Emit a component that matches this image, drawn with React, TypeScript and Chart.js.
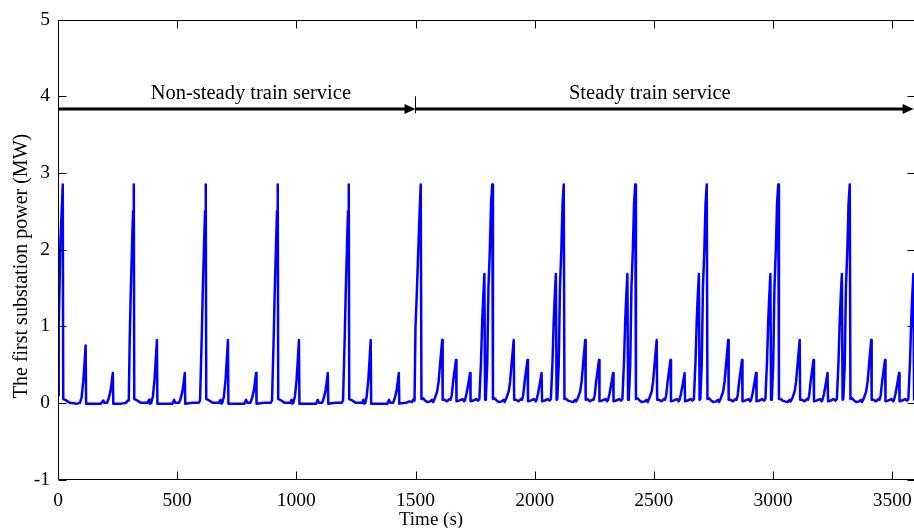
import React, { useEffect, useRef } from "react";
import { Chart, registerables } from "chart.js";

Chart.register(...registerables);

// Axis ticks and titles
const xTickValues = [0, 500, 1000, 1500, 2000, 2500, 3000, 3500];
const yTickValues = [-1, 0, 1, 2, 3, 4, 5];
const xTitle = "Time (s)";
const yTitle = "The first substation power (MW)";

// Regime annotation (time boundaries in s, level in MW)
const regimeNames = ["Non-steady train service", "Steady train service"];
const regimeBounds = [0, 1500, 3590];
const regimeArrowLevel = 3.83;

// Power trace, non-steady service: [time s, power MW]
const nonSteadyTrace: [number, number][] = [
  [0, 0.1], [3, 1.0], [7, 1.6], [10, 2.1], [14, 2.4], [20, 2.85], [22, 0.05], [30, 0.04], [40, 0.02], [50, 0.0], [80, -0.01],
  [92, 0.0], [99, 0.07], [106, 0.28], [111, 0.5], [116, 0.75], [118, -0.01],
  [150, -0.01], [180, -0.01], [190, 0.03], [195, 0.0],
  [206, 0.0], [213, 0.06], [220, 0.15], [225, 0.26], [230, 0.39], [232, -0.01],
  [265, -0.01], [285, 0.0], [293, 0.03],
  [297, 0.03], [301, 0.85], [305, 1.4], [308, 1.75], [312, 2.2], [315, 2.5], [318, 2.85], [320, 0.05], [328, 0.04], [338, 0.02], [348, 0.0], [375, 0.0], [382, 0.04], [386, -0.01],
  [391, 0.0], [398, 0.08], [405, 0.3], [410, 0.55], [415, 0.82], [417, -0.01],
  [450, -0.01], [480, -0.01], [487, 0.04], [492, 0.0],
  [508, 0.0], [515, 0.06], [522, 0.15], [527, 0.26], [532, 0.39], [534, -0.01],
  [565, 0.0], [590, 0.0], [596, 0.03],
  [599, 0.03], [603, 0.85], [607, 1.4], [610, 1.75], [614, 2.2], [617, 2.5], [620, 2.85], [622, 0.05], [630, 0.04], [640, 0.02], [650, 0.0], [675, 0.0], [682, 0.04], [686, -0.01],
  [689, 0.0], [696, 0.08], [703, 0.3], [708, 0.55], [713, 0.82], [715, -0.01],
  [750, -0.01], [782, -0.01], [789, 0.04], [794, 0.0],
  [807, 0.0], [814, 0.06], [821, 0.15], [826, 0.26], [831, 0.39], [833, -0.01],
  [865, 0.0], [892, 0.0], [898, 0.03],
  [901, 0.03], [905, 0.85], [909, 1.4], [912, 1.75], [916, 2.2], [919, 2.5], [922, 2.85], [924, 0.05], [932, 0.04], [942, 0.02], [952, 0.0], [975, 0.0], [980, 0.04], [984, -0.01],
  [987, 0.0], [994, 0.08], [1001, 0.3], [1006, 0.55], [1011, 0.82], [1013, -0.01],
  [1050, -0.01], [1083, -0.01], [1090, 0.04], [1095, 0.0],
  [1108, 0.0], [1115, 0.06], [1122, 0.15], [1127, 0.26], [1132, 0.39], [1134, -0.01],
  [1165, 0.0], [1190, 0.0], [1196, 0.03],
  [1199, 0.03], [1203, 0.85], [1207, 1.4], [1210, 1.75], [1214, 2.2], [1217, 2.5], [1220, 2.85], [1222, 0.05], [1230, 0.04], [1240, 0.02], [1250, 0.0], [1276, 0.0], [1282, 0.04], [1286, -0.01],
  [1289, 0.0], [1295, 0.08], [1302, 0.3], [1307, 0.55], [1312, 0.82], [1314, -0.01],
  [1350, -0.01], [1382, -0.01], [1389, 0.04], [1394, 0.0],
  [1406, 0.0], [1413, 0.06], [1420, 0.15], [1425, 0.26], [1430, 0.39], [1432, -0.01],
  [1460, 0.0], [1475, 0.02], [1485, 0.01], [1492, 0.05], [1496, 0.03],
];

// Power trace, steady service: [time s, power MW]
const steadyTrace: [number, number][] = [
  [1500, 1.0], [1504, 1.3], [1509, 1.75], [1514, 2.2], [1518, 2.55], [1522, 2.85], [1525, 0.05],
  [1532, 0.06], [1540, 0.03], [1550, 0.01], [1562, 0.02], [1570, 0.04],
  [1574, 0.01], [1581, 0.06], [1591, 0.15], [1597, 0.28], [1603, 0.5], [1612, 0.82], [1614, 0.04],
  [1622, 0.04], [1632, 0.02], [1642, 0.05],
  [1647, 0.04], [1652, 0.1], [1658, 0.28], [1664, 0.42], [1670, 0.56], [1672, 0.02],
  [1682, 0.03], [1697, 0.05], [1704, 0.02],
  [1708, 0.04], [1714, 0.12], [1721, 0.24], [1729, 0.39], [1731, 0.02],
  [1742, 0.03], [1754, 0.05], [1762, 0.03],
  [1768, 0.05], [1775, 0.55], [1780, 1.07], [1784, 1.37], [1789, 1.68], [1792, 0.04], [1795, 0.05],
  [1801, 0.5], [1806, 1.5], [1812, 2.0], [1817, 2.6], [1822, 2.85], [1825, 0.05],
  [1832, 0.06], [1840, 0.03], [1850, 0.01], [1862, 0.02], [1870, 0.04],
  [1874, 0.01], [1881, 0.06], [1891, 0.15], [1897, 0.28], [1903, 0.5], [1912, 0.82], [1914, 0.04],
  [1922, 0.04], [1932, 0.02], [1942, 0.05],
  [1947, 0.04], [1952, 0.1], [1958, 0.28], [1964, 0.42], [1970, 0.56], [1972, 0.02],
  [1982, 0.03], [1997, 0.05], [2004, 0.02],
  [2008, 0.04], [2014, 0.12], [2021, 0.24], [2029, 0.39], [2031, 0.02],
  [2042, 0.03], [2054, 0.05], [2062, 0.03],
  [2068, 0.05], [2075, 0.55], [2080, 1.07], [2084, 1.37], [2089, 1.68], [2092, 0.04], [2095, 0.05],
  [2101, 0.5], [2106, 1.5], [2112, 2.0], [2117, 2.6], [2122, 2.85], [2125, 0.05],
  [2132, 0.05], [2140, 0.03], [2150, 0.02], [2162, 0.01], [2170, 0.04],
  [2174, 0.02], [2181, 0.06], [2191, 0.15], [2197, 0.28], [2203, 0.5], [2212, 0.82], [2214, 0.04],
  [2222, 0.05], [2232, 0.02], [2242, 0.04],
  [2247, 0.04], [2252, 0.1], [2258, 0.28], [2264, 0.42], [2270, 0.56], [2272, 0.02],
  [2282, 0.03], [2297, 0.05], [2304, 0.02],
  [2308, 0.04], [2314, 0.12], [2321, 0.24], [2329, 0.39], [2331, 0.02],
  [2342, 0.03], [2354, 0.05], [2362, 0.03],
  [2368, 0.05], [2375, 0.55], [2380, 1.07], [2384, 1.37], [2389, 1.68], [2392, 0.04], [2395, 0.05],
  [2401, 0.5], [2406, 1.5], [2412, 2.0], [2417, 2.6], [2422, 2.85], [2425, 0.05],
  [2432, 0.06], [2440, 0.03], [2450, 0.01], [2462, 0.02], [2470, 0.04],
  [2474, 0.01], [2481, 0.06], [2491, 0.15], [2497, 0.28], [2503, 0.5], [2512, 0.82], [2514, 0.04],
  [2522, 0.04], [2532, 0.02], [2542, 0.05],
  [2547, 0.04], [2552, 0.1], [2558, 0.28], [2564, 0.42], [2570, 0.56], [2572, 0.02],
  [2582, 0.03], [2597, 0.05], [2604, 0.02],
  [2608, 0.04], [2614, 0.12], [2621, 0.24], [2629, 0.39], [2631, 0.02],
  [2642, 0.03], [2654, 0.05], [2662, 0.03],
  [2668, 0.05], [2675, 0.55], [2680, 1.07], [2684, 1.37], [2689, 1.68], [2692, 0.04], [2695, 0.05],
  [2701, 0.5], [2706, 1.5], [2712, 2.0], [2717, 2.6], [2722, 2.85], [2725, 0.05],
  [2732, 0.06], [2740, 0.03], [2750, 0.01], [2762, 0.02], [2770, 0.04],
  [2774, 0.01], [2781, 0.06], [2791, 0.15], [2797, 0.28], [2803, 0.5], [2812, 0.82], [2814, 0.04],
  [2822, 0.04], [2832, 0.02], [2842, 0.05],
  [2847, 0.04], [2852, 0.1], [2858, 0.28], [2864, 0.42], [2870, 0.56], [2872, 0.02],
  [2882, 0.03], [2897, 0.05], [2904, 0.02],
  [2908, 0.04], [2914, 0.12], [2921, 0.24], [2929, 0.39], [2931, 0.02],
  [2942, 0.03], [2954, 0.05], [2962, 0.03],
  [2968, 0.05], [2975, 0.55], [2980, 1.07], [2984, 1.37], [2989, 1.68], [2992, 0.04], [2995, 0.05],
  [3001, 0.5], [3006, 1.5], [3012, 2.0], [3017, 2.6], [3022, 2.85], [3025, 0.05],
  [3032, 0.05], [3040, 0.03], [3050, 0.02], [3062, 0.01], [3070, 0.04],
  [3074, 0.02], [3081, 0.06], [3091, 0.15], [3097, 0.28], [3103, 0.5], [3112, 0.82], [3114, 0.04],
  [3122, 0.04], [3132, 0.02], [3142, 0.05],
  [3147, 0.04], [3152, 0.1], [3158, 0.28], [3164, 0.42], [3170, 0.56], [3172, 0.02],
  [3182, 0.03], [3197, 0.05], [3204, 0.02],
  [3208, 0.04], [3214, 0.12], [3221, 0.24], [3229, 0.39], [3231, 0.02],
  [3242, 0.03], [3254, 0.05], [3262, 0.03],
  [3268, 0.05], [3275, 0.55], [3280, 1.07], [3284, 1.37], [3289, 1.68], [3292, 0.04], [3295, 0.05],
  [3301, 0.5], [3306, 1.5], [3312, 2.0], [3317, 2.6], [3322, 2.85], [3325, 0.05],
  [3332, 0.06], [3340, 0.03], [3350, 0.01], [3362, 0.02], [3370, 0.04],
  [3374, 0.01], [3381, 0.06], [3391, 0.15], [3397, 0.28], [3403, 0.5], [3412, 0.82], [3414, 0.04],
  [3422, 0.04], [3432, 0.02], [3442, 0.05],
  [3447, 0.04], [3452, 0.1], [3458, 0.28], [3464, 0.42], [3470, 0.56], [3472, 0.02],
  [3482, 0.03], [3497, 0.05], [3504, 0.02],
  [3508, 0.04], [3514, 0.12], [3521, 0.24], [3529, 0.39], [3531, 0.02],
  [3542, 0.03], [3554, 0.05], [3562, 0.03],
  [3568, 0.05], [3575, 0.55], [3580, 1.07], [3584, 1.37], [3589, 1.68], [3592, 0.04], [3595, 0.05], [3600, 0.5],
];

const SERIF = "'Liberation Serif', 'Times New Roman', serif";

const framePlugin = {
  id: "frameAndNotes",
  afterDatasetsDraw(chart: any) {
    const { ctx, chartArea: a, scales } = chart;
    const xs = scales.x;
    const ys = scales.y;
    ctx.save();
    // box
    ctx.strokeStyle = "#000";
    ctx.lineWidth = 1;
    const L = Math.round(a.left) + 0.5;
    const R = Math.round(a.right) - 0.5;
    const T = Math.round(a.top) + 0.5;
    const B = Math.round(a.bottom) - 0.5;
    ctx.beginPath();
    ctx.rect(L, T, R - L, B - T);
    ctx.stroke();
    // inward ticks
    const tl = 8;
    ctx.beginPath();
    xTickValues.forEach((v) => {
      const px = Math.round(xs.getPixelForValue(v)) + 0.5;
      ctx.moveTo(px, B);
      ctx.lineTo(px, B - tl);
      ctx.moveTo(px, T);
      ctx.lineTo(px, T + tl);
    });
    yTickValues.forEach((v) => {
      const py = Math.round(ys.getPixelForValue(v)) + 0.5;
      ctx.moveTo(L, py);
      ctx.lineTo(L + tl, py);
      ctx.moveTo(R, py);
      ctx.lineTo(R - tl, py);
    });
    ctx.stroke();

    // regime arrows
    const yA = Math.round(ys.getPixelForValue(regimeArrowLevel));
    ctx.fillStyle = "#000";
    for (let i = 0; i < 2; i++) {
      const x0 = xs.getPixelForValue(regimeBounds[i]);
      const x1 = xs.getPixelForValue(regimeBounds[i + 1]);
      ctx.lineWidth = 3;
      ctx.beginPath();
      ctx.moveTo(x0, yA);
      ctx.lineTo(x1 - 6, yA);
      ctx.stroke();
      ctx.beginPath();
      ctx.moveTo(x1, yA);
      ctx.lineTo(x1 - 11, yA - 5);
      ctx.lineTo(x1 - 11, yA + 5);
      ctx.closePath();
      ctx.fill();
    }
    // divider tick at regime boundary
    const xm = Math.round(xs.getPixelForValue(regimeBounds[1])) - 0.5;
    ctx.lineWidth = 1;
    ctx.beginPath();
    ctx.moveTo(xm, ys.getPixelForValue(4.0));
    ctx.lineTo(xm, ys.getPixelForValue(3.78));
    ctx.stroke();

    // regime labels
    ctx.font = `20.5px ${SERIF}`;
    ctx.textAlign = "center";
    ctx.textBaseline = "alphabetic";
    ctx.fillText(regimeNames[0], xs.getPixelForValue(809), ys.getPixelForValue(3.97));
    ctx.fillText(regimeNames[1], xs.getPixelForValue(2483), ys.getPixelForValue(3.97));

    // axis titles
    ctx.font = `19px ${SERIF}`;
    ctx.fillText(xTitle, 431, 525);
    ctx.save();
    ctx.translate(27, 266);
    ctx.rotate(-Math.PI / 2);
    ctx.font = `20px ${SERIF}`;
    ctx.fillText(yTitle, 0, 0);
    ctx.restore();
    ctx.restore();
  },
};

export default function App() {
  const ref = useRef<HTMLCanvasElement | null>(null);
  useEffect(() => {
    if (!ref.current) return;
    const points = [...nonSteadyTrace, ...steadyTrace].map(([t, p]) => ({ x: t, y: p }));
    const chart = new Chart(ref.current, {
      type: "line",
      data: {
        datasets: [
          {
            data: points,
            borderColor: "#0000ff",
            borderWidth: 2.5,
            borderJoinStyle: "round",
            borderCapStyle: "round",
            pointRadius: 0,
            tension: 0,
            fill: false,
          },
        ],
      },
      options: {
        animation: false,
        responsive: false,
        events: [],
        layout: { padding: { top: 15.5, right: 8, left: 0, bottom: 0 } },
        plugins: { legend: { display: false }, tooltip: { enabled: false } },
        scales: {
          x: {
            type: "linear",
            min: 0,
            max: 3600,
            afterFit: (s: any) => {
              s.height = 48.5;
            },
            afterBuildTicks: (s: any) => {
              s.ticks = xTickValues.map((v) => ({ value: v }));
            },
            grid: { display: false, drawTicks: false },
            border: { display: false },
            ticks: {
              autoSkip: false,
              maxRotation: 0,
              padding: 10,
              color: "#000",
              font: { family: SERIF, size: 19.5 },
              callback: (v: any) => String(v),
            },
          },
          y: {
            type: "linear",
            min: -1,
            max: 5,
            afterFit: (s: any) => {
              s.width = 58;
            },
            afterBuildTicks: (s: any) => {
              s.ticks = yTickValues.map((v) => ({ value: v }));
            },
            grid: { display: false, drawTicks: false },
            border: { display: false },
            ticks: {
              autoSkip: false,
              padding: 8,
              color: "#000",
              font: { family: SERIF, size: 19.5 },
              callback: (v: any) => String(v),
            },
          },
        },
      },
      plugins: [framePlugin],
    });
    return () => chart.destroy();
  }, []);
  return (
    <div style={{ position: "fixed", left: 0, top: 0, width: 914, height: 528, overflow: "hidden", background: "#fff" }}>
      <canvas ref={ref} width={924} height={528} style={{ display: "block" }} />
    </div>
  );
}
